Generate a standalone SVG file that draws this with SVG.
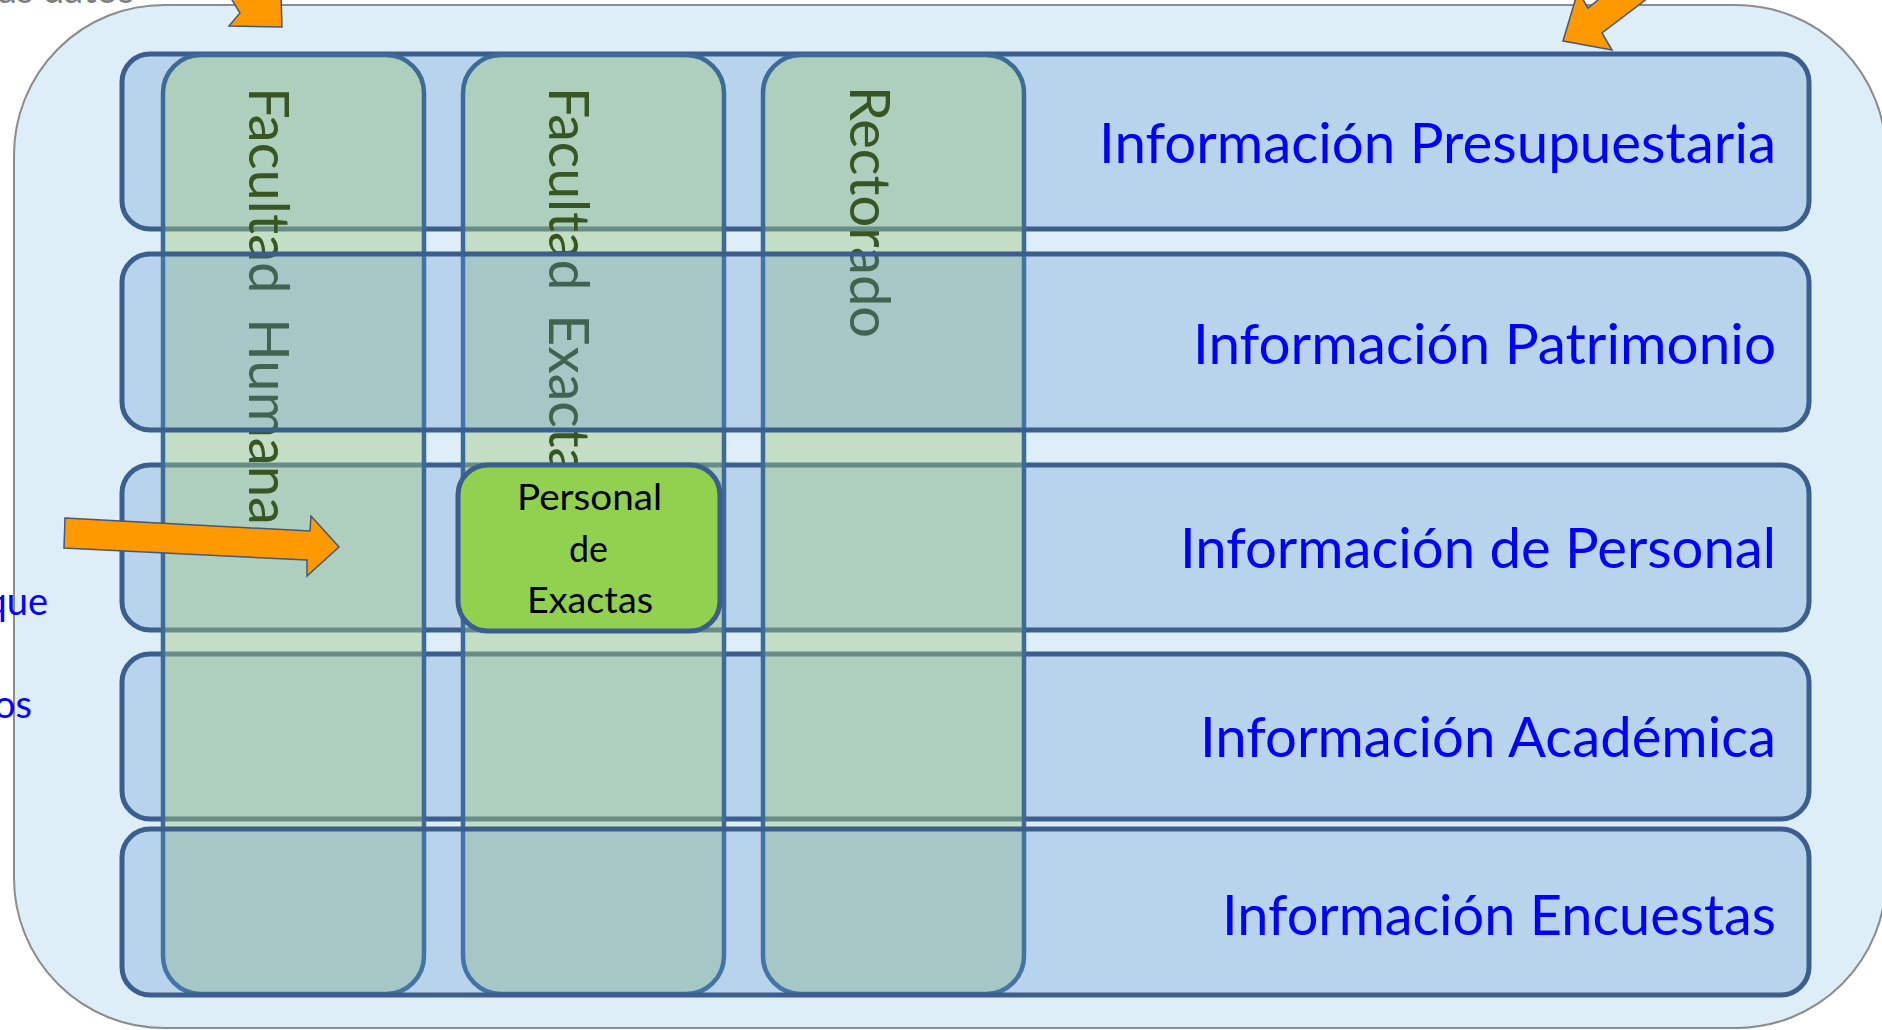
<svg xmlns="http://www.w3.org/2000/svg" width="1882" height="1030" viewBox="0 0 1882 1030">
<style>
.row{fill:#548ECC;fill-opacity:0.27;stroke:#3B5E8C;stroke-width:5}
.col{fill:#A1CB81;fill-opacity:0.44;stroke:#3E6A98;stroke-width:4.5}
.lbl{font-family:Lato,"Open Sans",sans-serif;font-size:56px;fill:#0000FF}
.ctext{font-family:Lato,"Open Sans",sans-serif;font-size:56px;fill:#375623;word-spacing:10px}
.side{font-family:Lato,"Open Sans",sans-serif;font-size:38px;fill:#0000FF}
.arrow{fill:#FF9900;stroke:#43587A;stroke-width:1.5}
.box{fill:#92D050;stroke:#3B5E8C;stroke-width:5}
.boxt{font-family:Lato,"Open Sans",sans-serif;font-size:37px;fill:#000000}
</style>
<rect width="1882" height="1030" fill="#FFFFFF"/>
<g id="frame"><rect x="14" y="5" width="1872" height="1023" rx="150" ry="150" fill="#DDEEF8" stroke="#8C8C8C" stroke-width="2"/></g>
<g id="fragments">
<text x="-2" y="3" style="font-family:Lato,sans-serif;font-size:38px;fill:#7F7F7F">as datos</text>
<text class="side" x="48" y="615" text-anchor="end">que</text>
<text class="side" x="32" y="718" text-anchor="end">os</text>
</g>
<g id="row-presupuestaria">
<rect class="row" x="122" y="54" width="1687" height="175" rx="28"/>
<text class="lbl" x="1099" y="163" textLength="677" lengthAdjust="spacingAndGlyphs">Información Presupuestaria</text>
</g>
<g id="row-personal">
<rect class="row" x="122" y="465" width="1687" height="165" rx="28"/>
<text class="lbl" x="1180" y="568" textLength="596" lengthAdjust="spacingAndGlyphs">Información de Personal</text>
</g>
<g id="row-academica">
<rect class="row" x="122" y="654" width="1687" height="165" rx="28"/>
<text class="lbl" x="1200" y="757" textLength="576" lengthAdjust="spacingAndGlyphs">Información Académica</text>
</g>
<g id="col-humana">
<rect class="col" x="163" y="55" width="261" height="939" rx="38"/>
<text class="ctext" transform="translate(249,87) rotate(90)" x="0" y="0" textLength="438" lengthAdjust="spacingAndGlyphs">Facultad Humana</text>
</g>
<g id="col-exactas">
<rect class="col" x="463" y="55" width="261" height="939" rx="38"/>
<text class="ctext" transform="translate(549,87) rotate(90)" x="0" y="0" textLength="388" lengthAdjust="spacingAndGlyphs">Facultad Exacta</text>
</g>
<g id="col-rectorado">
<rect class="col" x="763" y="55" width="261" height="939" rx="38"/>
<text class="ctext" transform="translate(850,86) rotate(90)" x="0" y="0" textLength="252" lengthAdjust="spacingAndGlyphs">Rectorado</text>
</g>
<g id="row-patrimonio">
<rect class="row" x="122" y="254" width="1687" height="176" rx="28"/>
<text class="lbl" x="1193" y="364" textLength="583" lengthAdjust="spacingAndGlyphs">Información Patrimonio</text>
</g>
<g id="row-encuestas">
<rect class="row" x="122" y="829" width="1687" height="166" rx="28"/>
<text class="lbl" x="1222" y="935" textLength="554" lengthAdjust="spacingAndGlyphs">Información Encuestas</text>
</g>
<g id="personal-exactas">
<rect class="box" x="458" y="465" width="262" height="166" rx="30"/>
<text class="boxt" x="517" y="510" textLength="145" lengthAdjust="spacingAndGlyphs">Personal</text>
<text class="boxt" x="569" y="562" textLength="39" lengthAdjust="spacingAndGlyphs">de</text>
<text class="boxt" x="527" y="613" textLength="126" lengthAdjust="spacingAndGlyphs">Exactas</text>
</g>
<g id="connectors">
<polygon class="arrow" points="65,518 310,531 311,516 339,547 307,576 307,560 64,548"/>
<polygon class="arrow" points="229,-5 240,13 229,26 282,27 281,-5"/>
<polygon class="arrow" points="1563,41 1612,50 1602,33 1698,-40 1660,-50 1588,8 1578,-9"/>
</g>
</svg>
